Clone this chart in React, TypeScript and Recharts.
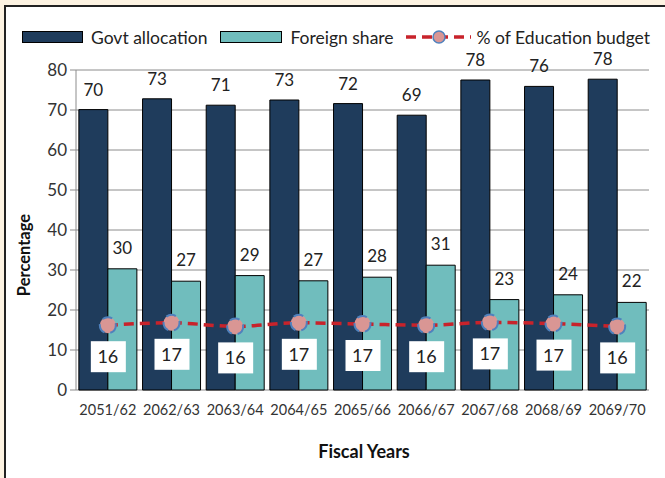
import {
  Bar,
  CartesianGrid,
  ComposedChart,
  LabelList,
  Line,
  XAxis,
  YAxis,
} from "recharts";

const years = [
  "2051/62",
  "2062/63",
  "2063/64",
  "2064/65",
  "2065/66",
  "2066/67",
  "2067/68",
  "2068/69",
  "2069/70",
];
const govtAllocation = [70.1, 72.8, 71.2, 72.5, 71.6, 68.7, 77.5, 75.9, 77.7];
const foreignShare = [30.3, 27.2, 28.6, 27.3, 28.2, 31.2, 22.6, 23.8, 21.9];
const educationBudget = [16.2, 16.8, 15.9, 16.8, 16.5, 16.2, 16.9, 16.6, 15.9];
const yTicks = [0, 10, 20, 30, 40, 50, 60, 70, 80];
const boundaryTicks = [0, 1, 2, 3, 4, 5, 6, 7, 8, 9];

const SERIES = {
  govt: "Govt allocation",
  foreign: "Foreign share",
  edu: "% of Education budget",
};

const data = years.map((year, i) => ({
  year,
  govt: govtAllocation[i],
  foreign: foreignShare[i],
  edu: educationBudget[i],
}));

const FONT = "Lato, 'Open Sans', sans-serif";
const DARK = "#1f3c5c";
const TEAL = "#70bdbd";
const RED = "#c8232b";

function EduLabel(props: any) {
  const { x, y, value } = props;
  if (x == null || y == null) return null;
  return (
    <g>
      <rect x={x - 17} y={y + 16} width={35} height={31} fill="#fff" />
      <text
        x={x}
        y={y + 38}
        textAnchor="middle"
        fontSize={18}
        fill="#222"
        fontFamily={FONT}
      >
        {Math.round(Number(value))}
      </text>
    </g>
  );
}

function Legend() {
  return (
    <div
      style={{
        position: "absolute",
        top: 27,
        left: 22,
        height: 20,
        display: "flex",
        alignItems: "center",
        fontFamily: FONT,
        fontSize: 17.5,
        color: "#222",
        whiteSpace: "nowrap",
      }}
    >
      <span
        style={{
          width: 59,
          height: 10,
          background: DARK,
          border: "1px solid #000",
          marginRight: 8,
        }}
      />
      <span style={{ marginRight: 13 }}>{SERIES.govt}</span>
      <span
        style={{
          width: 60,
          height: 10,
          background: TEAL,
          border: "1px solid #000",
          marginRight: 8,
        }}
      />
      <span style={{ marginRight: 12 }}>{SERIES.foreign}</span>
      <svg width={65} height={16} style={{ marginRight: 6 }}>
        <line
          x1={0}
          y1={8}
          x2={65}
          y2={8}
          stroke={RED}
          strokeWidth={3.5}
          strokeDasharray="10 6"
        />
        <circle cx={33} cy={8} r={6} fill="#d99694" stroke="#4f81bd" strokeWidth={1.5} />
      </svg>
      <span>{SERIES.edu}</span>
    </div>
  );
}

export default function App() {
  return (
    <div
      style={{
        position: "fixed",
        left: 0,
        top: 0,
        width: 665,
        height: 478,
        background: "#fdf3e2",
        overflow: "hidden",
      }}
    >
      <div
        style={{
          position: "absolute",
          left: 4,
          top: 5,
          width: 700,
          height: 520,
          background: "#fff",
          borderTop: "2px solid #222",
          borderLeft: "2px solid #222",
        }}
      />
      <Legend />
      <div style={{ position: "absolute", left: 0, top: 0 }}>
        <ComposedChart
          width={665}
          height={478}
          data={data}
          margin={{ top: 70, right: 16, left: 0, bottom: 58 }}
          barGap={0}
          barCategoryGap="4.5%"
        >
          <CartesianGrid vertical={false} stroke="#8c8c8c" strokeWidth={1} />
          <XAxis
            xAxisId="b"
            type="number"
            domain={[0, 9]}
            ticks={boundaryTicks}
            interval={0}
            height={0}
            tick={false}
            tickSize={7}
            stroke="#8c8c8c"
            allowDataOverflow
          />
          <XAxis
            dataKey="year"
            axisLine={false}
            tickLine={false}
            height={30}
            interval={0}
            tick={{ fill: "#333", fontSize: 14.5, fontFamily: FONT }}
            tickMargin={9}
          />
          <YAxis
            domain={[0, 80]}
            ticks={yTicks}
            width={76}
            stroke="#8c8c8c"
            tickSize={6}
            tick={{ fill: "#333", fontSize: 17, fontFamily: FONT }}
            tickMargin={3}
          />
          <Bar
            dataKey="govt"
            name={SERIES.govt}
            fill={DARK}
            stroke="#000"
            strokeWidth={1}
            isAnimationActive={false}
          >
            <LabelList
              dataKey="govt"
              position="top"
              offset={14}
              formatter={(v: any) => Math.round(Number(v))}
              style={{ fill: "#222", fontSize: 17, fontFamily: FONT }}
            />
          </Bar>
          <Bar
            dataKey="foreign"
            name={SERIES.foreign}
            fill={TEAL}
            stroke="#000"
            strokeWidth={1}
            isAnimationActive={false}
          >
            <LabelList
              dataKey="foreign"
              position="top"
              offset={15}
              formatter={(v: any) => Math.round(Number(v))}
              style={{ fill: "#222", fontSize: 17, fontFamily: FONT }}
            />
          </Bar>
          <Line
            dataKey="edu"
            name={SERIES.edu}
            type="monotone"
            stroke={RED}
            strokeWidth={3.5}
            strokeDasharray="10 6"
            dot={{ r: 8, fill: "#d99694", stroke: "#4f81bd", strokeWidth: 2 }}
            activeDot={false}
            isAnimationActive={false}
          >
            <LabelList dataKey="edu" content={<EduLabel />} />
          </Line>
        </ComposedChart>
      </div>
      <div
        style={{
          position: "absolute",
          left: 14,
          top: 255,
          transform: "translate(0, -50%) rotate(-90deg)",
          transformOrigin: "center",
          width: 20,
          display: "flex",
          justifyContent: "center",
          fontFamily: FONT,
          fontWeight: 700,
          fontSize: 16.5,
          color: "#111",
          whiteSpace: "nowrap",
        }}
      >
        Percentage
      </div>
      <div
        style={{
          position: "absolute",
          left: 0,
          width: 728,
          top: 440,
          textAlign: "center",
          fontFamily: FONT,
          fontWeight: 700,
          fontSize: 18,
          color: "#111",
        }}
      >
        Fiscal Years
      </div>
    </div>
  );
}
